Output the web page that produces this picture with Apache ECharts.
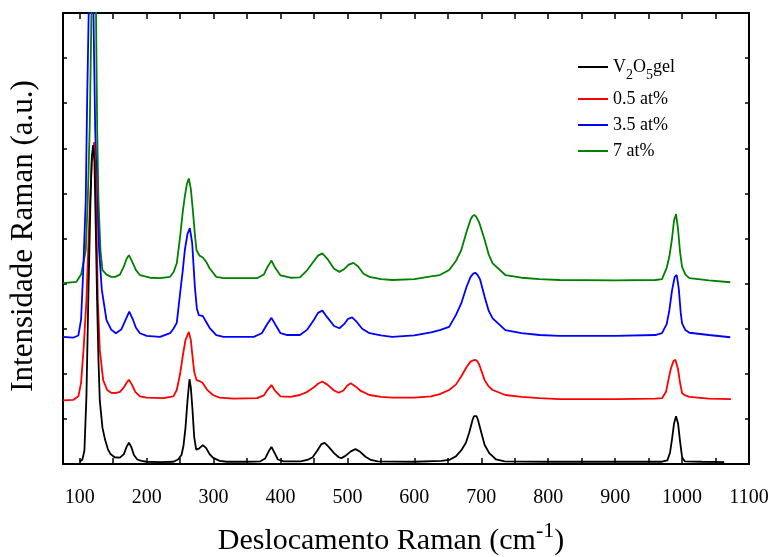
<!DOCTYPE html>
<html>
<head>
<meta charset="utf-8">
<script src="https://cdn.jsdelivr.net/npm/echarts@6/dist/echarts.min.js"></script>
<style>html,body{margin:0;padding:0;background:#fff}#c{width:775px;height:557px}</style>
</head>
<body>
<div id="c"></div>
<script>
const seriesNames = ['V2O5gel', '0.5 at%', '3.5 at%', '7 at%'];
const seriesColors = ['#000000', '#ff0000', '#0000ff', '#008000'];
const xTickLabels = [100, 200, 300, 400, 500, 600, 700, 800, 900, 1000, 1100];
const xTickMarks = [100,150,200,250,300,350,400,450,500,550,600,650,700,750,800,850,900,950,1000,1050,1100];

const gelData = [[100,0.05],[104,0.1],[107,0.3],[110,1.5],[113,3.8],[116,5.8],[118,6.8],[120,7.07],[122,6.7],[124,5.2],[126,3.6],[128,2.3],[130,1.4],[134,0.8],[138,0.53],[142,0.33],[146,0.22],[152,0.15],[160,0.14],[166,0.22],[170,0.38],[173.5,0.47],[177,0.38],[181,0.2],[186,0.1],[192,0.07],[200,0.05],[220,0.04],[240,0.05],[247,0.1],[252,0.2],[255,0.4],[258,0.8],[261,1.4],[264,1.88],[266,1.7],[268.5,1.2],[271,0.6],[274,0.32],[278,0.34],[284,0.42],[289,0.35],[294,0.22],[299,0.14],[309,0.07],[320,0.05],[350,0.05],[370,0.06],[377,0.12],[382,0.27],[386.5,0.38],[391,0.25],[396,0.1],[405,0.06],[430,0.06],[440,0.09],[448,0.15],[455,0.3],[461,0.44],[466,0.47],[472,0.38],[480,0.24],[487,0.15],[491,0.13],[497,0.18],[505,0.28],[512,0.33],[519,0.27],[527,0.16],[535,0.09],[545,0.06],[600,0.05],[640,0.07],[652,0.09],[662,0.17],[670,0.3],[677,0.47],[682,0.7],[687,0.98],[689,1.06],[691,1.09],[693,1.06],[695,0.98],[700,0.7],[705,0.42],[712,0.24],[722,0.1],[735,0.06],[800,0.05],[900,0.05],[970,0.05],[978,0.08],[982,0.25],[985,0.55],[988,0.9],[991,1.06],[994,0.9],[997,0.5],[1000,0.15],[1004,0.06],[1030,0.05],[1063,0.04]];

const at05Data = [[75,1.41],[90,1.42],[98,1.5],[102,1.8],[106,2.6],[110,3.64],[114,5.3],[118,6.7],[121.6,7.14],[124,6.3],[127,3.64],[130,2.53],[135,1.86],[141,1.64],[147,1.58],[153,1.57],[160,1.6],[166,1.7],[170,1.8],[173.5,1.87],[178,1.76],[183,1.6],[190,1.5],[200,1.47],[225,1.46],[240,1.5],[245,1.64],[250,2.0],[254,2.4],[258,2.75],[263,2.93],[266,2.75],[268,2.46],[271,2.05],[274.5,1.86],[280,1.83],[283.5,1.8],[290,1.65],[299,1.53],[309,1.47],[330,1.45],[365,1.46],[375,1.52],[381,1.65],[386.5,1.75],[392,1.62],[400,1.5],[415,1.49],[429,1.53],[440,1.6],[450,1.7],[456,1.78],[462.5,1.83],[470,1.76],[480,1.63],[487,1.58],[494,1.63],[500,1.74],[505,1.79],[512,1.72],[520,1.62],[533,1.53],[550,1.49],[567,1.47],[600,1.47],[625,1.5],[638,1.55],[652,1.64],[662,1.76],[670,1.94],[678,2.15],[684,2.27],[688,2.3],[691,2.31],[694,2.28],[697,2.2],[705,1.86],[711,1.72],[717,1.64],[736,1.53],[760,1.49],[787,1.46],[817,1.44],[900,1.44],[960,1.45],[970,1.46],[976,1.6],[979,1.82],[983,2.1],[987,2.28],[990,2.31],[994,2.1],[997,1.8],[1000,1.57],[1005,1.52],[1011,1.49],[1040,1.45],[1073,1.44]];

const at35Data = [[75,2.82],[90,2.8],[98,2.85],[102,3.2],[105,4.2],[109,5.85],[111,8],[114,10.5],[117,12.5],[120,10.5],[123,7.5],[126,5.85],[129,4.74],[133,3.86],[140,3.19],[147,2.98],[154,2.9],[162,2.98],[168,3.18],[174,3.38],[179,3.22],[184,3.02],[190,2.9],[200,2.84],[220,2.82],[235,2.9],[240,3.0],[245,3.13],[250,3.79],[254,4.3],[257,4.74],[261,5.1],[264.5,5.23],[268,4.9],[272,3.93],[275,3.45],[278,3.3],[284,3.28],[289,3.15],[294,3.02],[304,2.86],[315,2.82],[360,2.82],[372,2.9],[380,3.1],[386.5,3.24],[392,3.1],[400,2.9],[410,2.86],[429,2.86],[440,2.98],[450,3.2],[456,3.35],[462.5,3.4],[470,3.25],[480,3.06],[488,3.01],[495,3.1],[501,3.22],[507,3.25],[514,3.15],[522,3.0],[533,2.9],[550,2.85],[567,2.82],[600,2.85],[625,2.92],[638,2.97],[652,3.04],[662,3.3],[670,3.56],[678,3.93],[684,4.15],[688,4.22],[691,4.24],[694,4.2],[698,4.1],[705,3.71],[711,3.4],[717,3.23],[736,2.97],[760,2.9],[787,2.86],[817,2.84],[900,2.84],[960,2.86],[970,2.9],[977,3.1],[981,3.41],[985,3.85],[989,4.15],[992,4.19],[995,3.9],[998,3.35],[1000,3.12],[1005,2.97],[1011,2.91],[1040,2.86],[1072,2.81]];

const at7Data = [[75,4.01],[95,4.04],[102,4.2],[106,4.5],[109,4.74],[112,5.85],[115,7.5],[118,10.5],[121,12.5],[124,10.5],[126,7.5],[128,5.85],[131,4.74],[134,4.3],[140,4.2],[147,4.15],[153,4.15],[160,4.2],[166,4.38],[170,4.55],[173.5,4.63],[178,4.5],[184,4.3],[190,4.19],[205,4.13],[220,4.12],[235,4.15],[240,4.25],[245,4.45],[250,5.04],[254,5.6],[257,5.93],[260,6.2],[263,6.33],[266,6.1],[269,5.63],[272,5.1],[274.5,4.74],[279,4.62],[284,4.58],[289,4.48],[294,4.34],[304,4.15],[315,4.12],[365,4.12],[375,4.2],[381,4.38],[386.5,4.51],[392,4.35],[400,4.18],[415,4.13],[429,4.14],[440,4.3],[450,4.5],[456,4.62],[462.5,4.67],[470,4.55],[480,4.33],[488,4.26],[495,4.32],[502,4.42],[509,4.46],[516,4.38],[524,4.22],[533,4.15],[550,4.1],[567,4.08],[600,4.1],[625,4.16],[638,4.19],[652,4.3],[662,4.5],[670,4.74],[678,5.15],[684,5.42],[687,5.5],[690,5.52],[693,5.47],[697,5.35],[705,4.97],[711,4.65],[717,4.45],[736,4.19],[760,4.13],[787,4.1],[817,4.08],[900,4.07],[960,4.08],[970,4.1],[977,4.35],[981,4.6],[985,5.0],[988,5.4],[991,5.54],[994,5.2],[997,4.7],[1000,4.37],[1005,4.2],[1011,4.12],[1040,4.07],[1072,4.03]];

const allData = [gelData, at05Data, at35Data, at7Data];
const FONT = 'Liberation Serif';

const chart = echarts.init(document.getElementById('c'), null, {renderer: 'canvas'});
const axisLineStyle = {color: '#000', width: 2};
const xCommon = {
  type: 'value', min: 75, max: 1100,
  axisLine: {show: true, onZero: false, lineStyle: axisLineStyle},
  axisTick: {show: true, inside: true, length: 6, customValues: xTickMarks, lineStyle: {color: '#000', width: 1.5}},
  splitLine: {show: false}
};
const yCommon = {
  type: 'value', min: 0, max: 10, interval: 1,
  axisLine: {show: true, onZero: false, lineStyle: axisLineStyle},
  axisTick: {show: true, inside: true, length: 4, lineStyle: {color: '#000', width: 1.5}},
  axisLabel: {show: false},
  splitLine: {show: false}
};

chart.setOption({
  animation: false,
  backgroundColor: '#fff',
  grid: {left: 63, right: 26, top: 13, bottom: 93, containLabel: false},
  xAxis: [
    Object.assign({}, xCommon, {position: 'bottom',
      axisLabel: {show: true, customValues: xTickLabels, color: '#000', fontFamily: FONT, fontSize: 20, margin: 24,
        formatter: function (v) { return String(v); }}}),
    Object.assign({}, xCommon, {position: 'top', axisLabel: {show: false}})
  ],
  yAxis: [
    Object.assign({}, yCommon, {position: 'left'}),
    Object.assign({}, yCommon, {position: 'right'})
  ],
  legend: {
    left: 578, top: 58, padding: 0, orient: 'vertical', itemWidth: 30, itemHeight: 2, itemGap: 8,
    icon: 'rect',
    data: seriesNames,
    textStyle: {color: '#000', fontFamily: FONT, fontSize: 18, padding: [0, 0, 0, 0],
      rich: {n: {fontFamily: FONT, fontSize: 18, color: '#000'},
             s: {fontFamily: FONT, fontSize: 14, color: '#000', verticalAlign: 'bottom', padding: [16, 0, 0, 0]}}},
    formatter: function (name) {
      if (name === 'V2O5gel') return '{n|V}{s|2}{n|O}{s|5}{n|gel}';
      return name;
    }
  },
  graphic: [
    {type: 'text', x: 24, y: 236, rotation: Math.PI / 2,
     style: {text: 'Intensidade Raman (a.u.)', fill: '#000', font: '31px "Liberation Serif"', align: 'center', verticalAlign: 'middle'}},
    {type: 'text', x: 391, y: 538,
     style: {text: '{a|Deslocamento Raman (cm}{b|-1}{a|)}', fill: '#000', align: 'center', verticalAlign: 'middle',
       rich: {a: {fontFamily: FONT, fontSize: 30, color: '#000', lineHeight: 36, verticalAlign: 'bottom'},
              b: {fontFamily: FONT, fontSize: 22, color: '#000', lineHeight: 36, verticalAlign: 'top'}}}}
  ],
  series: seriesNames.map(function (n, i) {
    return {
      name: n, type: 'line', data: allData[i], symbol: 'none', showSymbol: false,
      clip: true, lineStyle: {color: seriesColors[i], width: 1.8}, itemStyle: {color: seriesColors[i]},
      z: 10 - i
    };
  })
});
</script>
</body>
</html>
